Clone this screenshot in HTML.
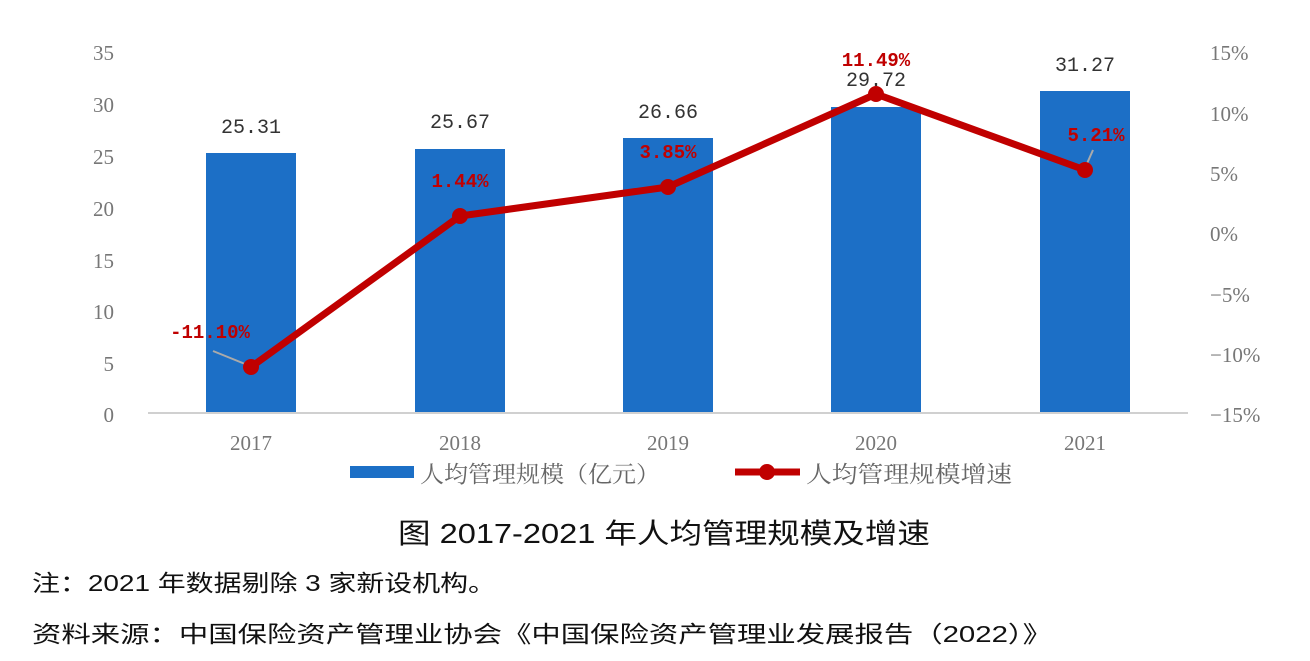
<!DOCTYPE html>
<html><head><meta charset="utf-8"><style>
body{margin:0;background:#fff;width:1310px;height:656px;overflow:hidden}
</style></head><body>
<svg width="1310" height="656" xmlns="http://www.w3.org/2000/svg">
<g font-family="Liberation Serif, Noto Serif CJK SC, serif" font-size="21" fill="#777">
<text x="114" y="60" text-anchor="end">35</text>
<text x="114" y="112" text-anchor="end">30</text>
<text x="114" y="164" text-anchor="end">25</text>
<text x="114" y="216" text-anchor="end">20</text>
<text x="114" y="268" text-anchor="end">15</text>
<text x="114" y="319" text-anchor="end">10</text>
<text x="114" y="371" text-anchor="end">5</text>
<text x="114" y="422" text-anchor="end">0</text>
<text x="1210" y="60">15%</text>
<text x="1210" y="121">10%</text>
<text x="1210" y="181">5%</text>
<text x="1210" y="241">0%</text>
<text x="1210" y="302">−5%</text>
<text x="1210" y="362">−10%</text>
<text x="1210" y="422">−15%</text>
<text x="251" y="450" text-anchor="middle">2017</text>
<text x="460" y="450" text-anchor="middle">2018</text>
<text x="668" y="450" text-anchor="middle">2019</text>
<text x="876" y="450" text-anchor="middle">2020</text>
<text x="1085" y="450" text-anchor="middle">2021</text>
</g>
<g fill="#1c6fc6">
<rect x="206" y="153" width="90" height="260"/>
<rect x="415" y="149" width="90" height="264"/>
<rect x="623" y="138" width="90" height="275"/>
<rect x="831" y="107" width="90" height="306"/>
<rect x="1040" y="91" width="90" height="322"/>
</g>
<line x1="148" y1="413" x2="1188" y2="413" stroke="#d0d0d0" stroke-width="2"/>
<g font-family="Liberation Mono, monospace" font-size="20" fill="#333" text-anchor="middle">
<text x="251" y="133">25.31</text>
<text x="460" y="128">25.67</text>
<text x="668" y="118">26.66</text>
<text x="876" y="86">29.72</text>
<text x="1085" y="71">31.27</text>
</g>
<line x1="213" y1="351" x2="250" y2="366" stroke="#aaa" stroke-width="2"/>
<line x1="1093" y1="150" x2="1085" y2="168" stroke="#aaa" stroke-width="2"/>
<polyline points="251,367 460,216 668,187 876,94 1085,170" fill="none" stroke="#c00000" stroke-width="7" stroke-linejoin="round"/>
<g fill="#c00000">
<circle cx="251" cy="367" r="8"/><circle cx="460" cy="216" r="8"/><circle cx="668" cy="187" r="8"/><circle cx="876" cy="94" r="8"/><circle cx="1085" cy="170" r="8"/>
</g>
<g font-family="Liberation Mono, monospace" font-size="19" font-weight="bold" fill="#c00000" text-anchor="middle">
<text x="210" y="338">-11.10%</text>
<text x="460" y="187">1.44%</text>
<text x="668" y="158">3.85%</text>
<text x="876" y="66">11.49%</text>
<text x="1096" y="141">5.21%</text>
</g>
<rect x="350" y="466" width="64" height="12" fill="#1c6fc6"/>
<text x="420" y="482" font-family="Liberation Serif, Noto Serif CJK SC, serif" font-size="23" fill="#666" textLength="240" lengthAdjust="spacingAndGlyphs">人均管理规模（亿元）</text>
<line x1="735" y1="472" x2="800" y2="472" stroke="#c00000" stroke-width="7"/>
<circle cx="767" cy="472" r="8" fill="#c00000"/>
<text x="806" y="482" font-family="Liberation Serif, Noto Serif CJK SC, serif" font-size="23" fill="#666" textLength="206" lengthAdjust="spacingAndGlyphs">人均管理规模增速</text>
<g font-family="Liberation Sans, Noto Sans CJK SC, sans-serif" fill="#111">
<text x="398" y="543" font-size="28" textLength="532" lengthAdjust="spacingAndGlyphs">图 2017-2021 年人均管理规模及增速</text>
<text x="32" y="591" font-size="23" textLength="464" lengthAdjust="spacingAndGlyphs">注：2021 年数据剔除 3 家新设机构。</text>
<text x="32" y="642" font-size="23" textLength="1020" lengthAdjust="spacingAndGlyphs">资料来源：中国保险资产管理业协会《中国保险资产管理业发展报告（2022）》</text>
</g>
</svg>
</body></html>
